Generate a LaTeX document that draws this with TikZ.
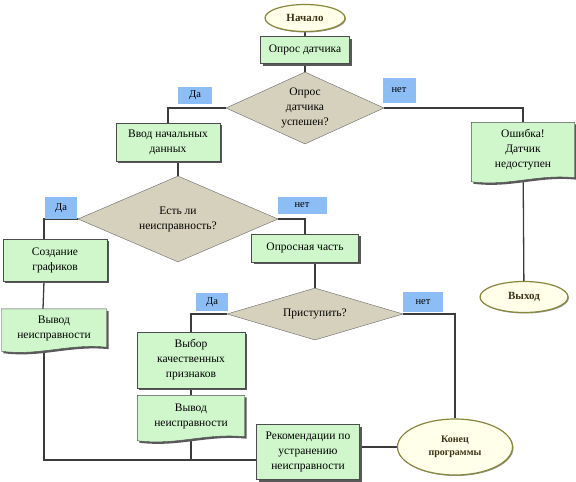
\documentclass[tikz,border=0pt]{standalone}
\usepackage{fontspec}
\setmainfont{Liberation Serif}
\usepackage{xcolor}
\usepackage{tikz}
\usetikzlibrary{shadows}
\usetikzlibrary{shapes.geometric}
\usetikzlibrary{calc,backgrounds}
\definecolor{boxgreen}{RGB}{208,246,204}
\definecolor{choicetan}{RGB}{214,209,189}
\definecolor{labelblue}{RGB}{140,190,245}
\definecolor{ovalfill}{RGB}{255,255,234}
\definecolor{ovaldraw}{RGB}{135,135,60}
\definecolor{ovaltext}{RGB}{60,50,20}
\definecolor{wirecol}{RGB}{60,60,60}
\newcommand{\boxfont}{\fontsize{11.5}{15}\selectfont}
\tikzstyle{greenbox}=[rectangle,draw=black!70,fill=boxgreen,drop shadow={shadow xshift=2pt,shadow yshift=-2pt,fill=black!65,opacity=1},align=center,inner sep=1pt,font=\boxfont]
\tikzstyle{docbox}=[rectangle,align=center,inner sep=1pt,font=\boxfont]
\tikzstyle{docwave}=[draw=black!70,fill=boxgreen,drop shadow={shadow xshift=2pt,shadow yshift=-2pt,fill=black!65,opacity=1}]
\tikzstyle{choice}=[diamond,draw=black!60,fill=choicetan,inner sep=0pt,align=center,font=\boxfont]
\tikzstyle{terminal}=[ellipse,draw=ovaldraw,line width=1.2pt,fill=ovalfill,drop shadow={shadow xshift=1pt,shadow yshift=-1pt,fill=black!40,opacity=1},inner sep=0pt,align=center,text=ovaltext,font=\bfseries\fontsize{11}{13}\selectfont]
\tikzstyle{answer}=[rectangle,fill=labelblue,inner sep=0pt,font=\fontsize{10.5}{12}\selectfont]
\tikzstyle{link} = [draw,line width=1.3pt,color=wirecol]

\begin{document}
\begin{tikzpicture}[x=1pt,y=-1pt]
  \useasboundingbox (0,0) rectangle (576,482);

  % terminals
  \node[terminal,minimum width=80,minimum height=27] (start) at (305,18) {Начало};
  \node[terminal,minimum width=88,minimum height=31] (exit) at (524,297) {Выход};
  \node[terminal,minimum width=115,minimum height=56,font=\bfseries\fontsize{10}{13}\selectfont] (finish) at (455,447) {Конец\\программы};

  \foreach \x/\y/\w/\h/\name/\label in {305/50/89/27/sensor/{Опрос датчика}, 168/142/104/38/input/{Ввод начальных\\данных},
        55/260/104/42/graphs/{Создание\\графиков}, 305/248/107/28/poll/{Опросная часть}}
          \node[greenbox,minimum width=\w,minimum height=\h] (\name) at (\x,\y) {\label};

  \foreach \x/\y/\w/\h/\name/\label in {191/360/108/56/choose/{Выбор\\качественных\\признаков}, 308/452/103/55/rec/{Рекомендации по\\устранению\\неисправности}}
          \node[greenbox,minimum width=\w,minimum height=\h] (\name) at (\x,\y) {\label};

  \foreach \x/\y/\w/\h/\name/\label in {523/150/103/55/err/{Ошибка!\\Датчик\\недоступен}, 54/328/105/38/outL/{Вывод\\неисправности},
        191/416/107/41/outM/{Вывод\\неисправности}}
          \node[docbox,minimum width=\w,minimum height=\h] (\name) at (\x,\y) {\label};

  % decisions
  \node[choice,minimum width=158,minimum height=72,aspect=2.2] (q1) at (305,108) {Опрос\\датчика\\успешен?};
  \node[choice,minimum width=200,minimum height=86,aspect=2.3] (q2) at (178,219) {Есть ли\\неисправность?};
  \node[choice,minimum width=176,minimum height=52,aspect=3.4] (q3) at (315,314) {Приступить?};

  \foreach \x/\y/\w/\h/\name/\label in {195/95/34/17/yes1/Да, 399/90/33/25/no1/нет, 61/208/32/22/yes2/Да,
        302/205/49/17/no2/нет, 212/302/32/18/yes3/Да, 423/302/40/20/no3/нет}
          \node[answer,minimum width=\w,minimum height=\h] (\name) at (\x,\y) {\label};

  \begin{scope}[on background layer]
    \coordinate (bus) at ([yshift=-8pt]rec.west);
    \coordinate (graphsin) at ([xshift=-11pt]graphs.north);

    \foreach \source/ \dest in {start/sensor, sensor/q1, err/exit, choose/outM, input.south -| q2.north/q2.north,
          poll.south -| q3.north/q3.north, outM/outM |- bus, finish.west/finish.west -| rec.east}
           \path[link] (\source) -- (\dest);

    \foreach \source/ \dest in {q1.west/input.north, q1.east/err.north, q2.east/poll.north, q3.west/choose.north,
          q3.east/finish.north, q2.west/graphsin}
           \path[link] (\source) -| (\dest);

    \path[link] ([xshift=-11pt]graphs.south) -- ([xshift=-11pt]outL.north);
    \path[link] ([xshift=-10pt]outL.south) |- (bus);

    %document shapes
    \foreach \name in {err, outL, outM}
           \path[docwave] (\name.north west) -- (\name.north east) -- (\name.south east)
              .. controls ($(\name.south)+(15,-4)$) and ($(\name.south)+(-15,9)$) .. ($(\name.south west)+(0,4)$) -- cycle;
  \end{scope}

\end{tikzpicture}
\end{document}
